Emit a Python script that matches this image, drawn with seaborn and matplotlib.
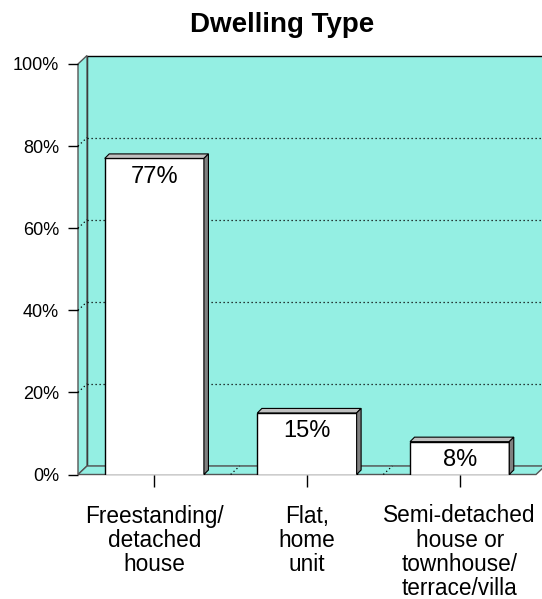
import matplotlib
matplotlib.use('Agg')
import matplotlib.pyplot as plt
from matplotlib.patches import Polygon
import seaborn as sns

# 数据
categories = ['Freestanding/\ndetached\nhouse',
              'Flat,\nhome\nunit',
              'Semi-detached\nhouse or\ntownhouse/\nterrace/villa']
values = [77, 15, 8]
value_labels = ['77%', '15%', '8%']
y_ticks = [0, 20, 40, 60, 80, 100]
y_tick_labels = ['0%', '20%', '40%', '60%', '80%', '100%']

WALL = '#94EFE3'
W, H = 542, 599

sns.set_style('white')
plt.rcParams['font.family'] = ['Liberation Sans', 'DejaVu Sans']
plt.rcParams['text.color'] = 'black'
plt.rcParams['xtick.color'] = 'black'
plt.rcParams['ytick.color'] = 'black'
plt.rcParams['xtick.labelcolor'] = 'black'
plt.rcParams['ytick.labelcolor'] = 'black'

fig = plt.figure(figsize=(W / 100, H / 100), dpi=100)
ax = fig.add_axes([78 / W, (H - 474.5) / H, 458 / W, 410.5 / H])

sns.barplot(x=categories, y=values, color='white', saturation=1,
            edgecolor='black', linewidth=1, width=0.65, ax=ax, zorder=2)
bars = list(ax.patches)

x0, x1 = -0.5, len(categories) - 0.5
ax.set_xlim(x0, x1)
ax.set_ylim(0, 100)


def px(dx, dy):
    # 像素偏移 -> 数据偏移
    ox, oy = ax.transData.transform((0, 0))
    return ax.transData.inverted().transform((ox + dx, oy + dy))


wdx, wdy = px(9, 8.5)
bdx, bdy = px(4.5, 4.5)

# 3D 背景墙、侧墙、地板
ax.add_patch(Polygon([(x0 + wdx, wdy), (x1 + wdx, wdy),
                      (x1 + wdx, 100 + wdy), (x0 + wdx, 100 + wdy)],
                     fc=WALL, ec='black', lw=1, clip_on=False, zorder=0.3))
ax.add_patch(Polygon([(x0, 0), (x0 + wdx, wdy), (x0 + wdx, 100 + wdy),
                      (x0, 100)],
                     fc=WALL, ec='#555555', lw=1, clip_on=False, zorder=0.35))
ax.add_patch(Polygon([(x0, 0), (x1, 0), (x1 + wdx, wdy), (x0 + wdx, wdy)],
                     fc=WALL, ec='#555555', lw=1, clip_on=False, zorder=0.4))

dots = dict(color='black', lw=0.9, ls=(0, (1, 2.2)), clip_on=False,
            zorder=0.5)
for v in y_ticks[1:-1]:
    ax.plot([x0 + wdx, x1 + wdx], [v + wdy, v + wdy], **dots)
    ax.plot([x0, x0 + wdx], [v, v + wdy], **dots)
for i in range(1, len(categories)):
    ax.plot([i - 0.5, i - 0.5 + wdx], [0, wdy], **dots)

# 柱子的顶面和侧面
for bar, lab in zip(bars, value_labels):
    bx0 = bar.get_x()
    bx1 = bx0 + bar.get_width()
    h = bar.get_height()
    ax.add_patch(Polygon([(bx0, h), (bx1, h), (bx1 + bdx, h + bdy),
                          (bx0 + bdx, h + bdy)],
                         fc='#C0C0C0', ec='black', lw=0.8, zorder=2.1))
    ax.add_patch(Polygon([(bx1, 0), (bx1, h), (bx1 + bdx, h + bdy),
                          (bx1 + bdx, bdy)],
                         fc='#808080', ec='black', lw=0.8, zorder=2.1))
    ax.annotate(lab, (bx0 + bar.get_width() / 2, h), xytext=(0, -17.6),
                textcoords='offset points', ha='center', va='baseline',
                fontsize=17, color='black', zorder=3)

for spine in ax.spines.values():
    spine.set_visible(False)
ax.patch.set_visible(False)
ax.grid(False)
ax.set_xlabel('')
ax.set_ylabel('')

ax.set_yticks(y_ticks, y_tick_labels)
ax.tick_params(axis='y', left=True, length=7.2, width=1, pad=6.5,
               labelsize=13, color='black', labelcolor='black')
ax.tick_params(axis='x', bottom=True, length=8.6, width=1, pad=13,
               labelsize=16.3, color='black', labelcolor='black')
for lbl in ax.get_xticklabels():
    lbl.set_linespacing(1.06)

fig.text(282 / W, 1 - 32 / H, 'Dwelling Type', ha='center', va='baseline',
         fontsize=20, fontweight='bold', color='black')

fig.savefig('out.png', dpi=100)
